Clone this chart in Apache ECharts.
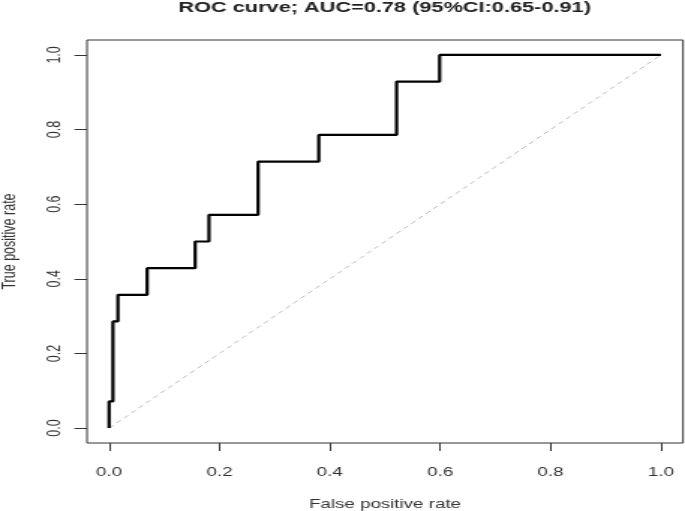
<!DOCTYPE html>
<html>
<head>
<meta charset="utf-8">
<script src="https://cdn.jsdelivr.net/npm/echarts@6/dist/echarts.min.js"></script>
<style>
  html, body { margin: 0; padding: 0; background: #fff; overflow: hidden; }
  #wrap { width: 685px; height: 511px; overflow: hidden; }
  #chart { width: 457px; height: 511px; transform: scaleX(1.49891); transform-origin: 0 0; }
</style>
</head>
<body>
<div id="wrap"><div id="chart"></div></div>
<script>
// ROC curve corner points (false positive rate, true positive rate)
const fpr = [0, 0, 0.007, 0.016, 0.069, 0.156, 0.181, 0.270, 0.380, 0.521, 0.599, 1];
const tpr = [0, 0.0714, 0.2857, 0.3571, 0.4286, 0.5, 0.5714, 0.7143, 0.7857, 0.9286, 1, 1];
// chance (reference) diagonal
const diagX = [0, 1];
const diagY = [0, 1];
const tickValues = [0, 0.2, 0.4, 0.6, 0.8, 1.0];
const titleText = 'ROC curve; AUC=0.78 (95%CI:0.65-0.91)';
const xName = 'False positive rate';
const yName = 'True positive rate';

const rocData = fpr.map((x, i) => [x, tpr[i]]);
const diagData = diagX.map((x, i) => [x, diagY[i]]);

const FONT = 'Liberation Sans, Arial, sans-serif';
const chart = echarts.init(document.getElementById('chart'), null, { renderer: 'canvas' });
chart.setOption({
  animation: false,
  backgroundColor: '#fff',
  title: {
    text: titleText,
    left: 119,
    top: 0,
    padding: 0,
    textStyle: { fontFamily: FONT, fontSize: 14.5, fontWeight: 'bold', color: '#222' }
  },
  grid: {
    left: 58.04, right: 1.33, top: 40, bottom: 68, show: true, borderColor: '#333', borderWidth: 1,
    backgroundColor: 'transparent', containLabel: false, outerBoundsMode: 'none'
  },
  xAxis: {
    type: 'value', min: -0.04, max: 1.04,
    axisLine: { show: false, onZero: false },
    axisTick: { show: true, length: 8, customValues: tickValues, lineStyle: { color: '#333', width: 1 } },
    axisLabel: { margin: 23, fontSize: 12.5, color: '#333', fontFamily: FONT, customValues: tickValues,
      formatter: v => v.toFixed(1) },
    splitLine: { show: false },
    name: xName, nameLocation: 'middle', nameGap: 55,
    nameTextStyle: { fontSize: 12.5, color: '#333', fontFamily: FONT }
  },
  yAxis: {
    type: 'value', min: -0.04, max: 1.04,
    axisLine: { show: false, onZero: false },
    axisTick: { show: true, length: 8.4, customValues: tickValues, lineStyle: { color: '#333', width: 1 } },
    axisLabel: { margin: 15, rotate: 90, fontSize: 12.5, color: '#333', fontFamily: FONT, customValues: tickValues,
      formatter: v => v.toFixed(1) },
    splitLine: { show: false },
    name: yName, nameLocation: 'middle', nameGap: 45, nameRotate: 90,
    nameTextStyle: { fontSize: 12.5, color: '#333', fontFamily: FONT }
  },
  series: [
    {
      type: 'line', data: diagData,
      symbol: 'none', silent: true,
      lineStyle: { color: '#bdbdbd', width: 1, type: [4, 3] }
    },
    {
      type: 'line', data: rocData,
      step: 'end', symbol: 'none',
      lineStyle: { color: '#000', width: 2.2 }
    }
  ]
});
</script>
</body>
</html>
